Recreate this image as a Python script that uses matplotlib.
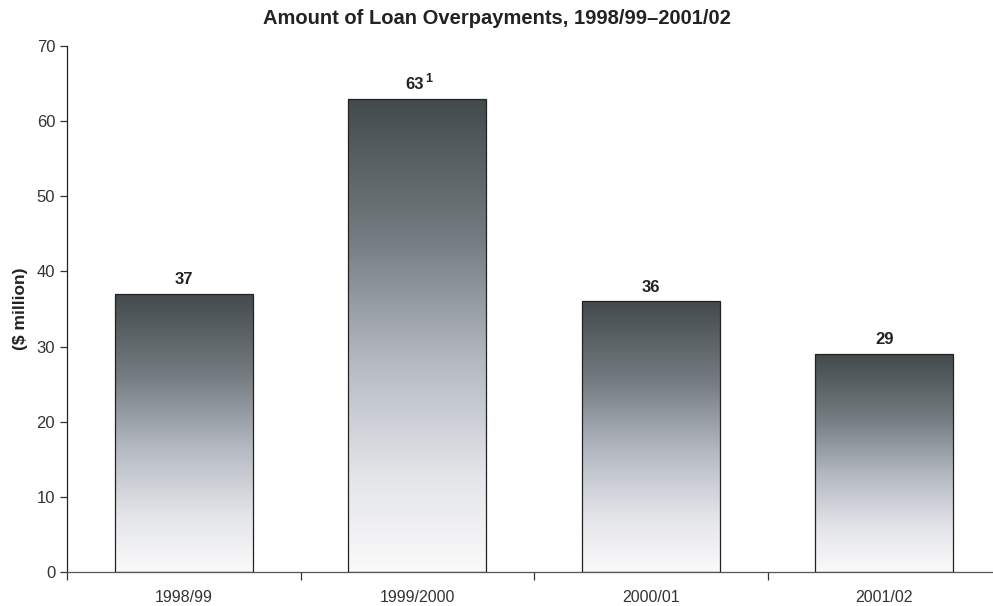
import numpy as np
import matplotlib
matplotlib.use("Agg")
import matplotlib.pyplot as plt
from matplotlib.colors import LinearSegmentedColormap

plt.rcParams['font.family'] = ['Liberation Sans', 'DejaVu Sans']

# datos
years = ["1998/99", "1999/2000", "2000/01", "2001/02"]
amounts = [37, 63, 36, 29]
notes = ["", "1", "", ""]

# degradado: oscuro arriba, casi blanco abajo
grad = LinearSegmentedColormap.from_list(
    "grad", [(0.0, "#fafafa"), (0.2, "#e4e5e9"), (0.45, "#b3b8c1"),
             (0.7, "#757d82"), (1.0, "#424a4c")])

fig = plt.figure(figsize=(9.93, 6.06), dpi=100)
ax = fig.add_axes([67 / 993, 34 / 606, 934 / 993, 526 / 606])

x = np.arange(len(years))
width = 0.59
bars = ax.bar(x, amounts, width=width, facecolor="none",
              edgecolor="#222222", linewidth=0.9, zorder=3)

ramp = np.linspace(0, 1, 256).reshape(-1, 1)
for b in bars:
    x0, h = b.get_x(), b.get_height()
    im = ax.imshow(ramp, cmap=grad, aspect="auto", origin="lower",
                   extent=[x0, x0 + width, 0, h], zorder=2)
    im.set_clip_path(b)

for xi, v, n in zip(x, amounts, notes):
    if n:
        ax.annotate(str(v), (xi, v), xytext=(-2, 5), textcoords="offset points",
                    ha="center", va="bottom", fontsize=12, fontweight="bold",
                    color="#222222")
        ax.annotate(n, (xi, v), xytext=(5.5, 10), textcoords="offset points",
                    ha="left", va="bottom", fontsize=9, fontweight="bold",
                    color="#222222")
    else:
        ax.annotate(str(v), (xi, v), xytext=(0, 5), textcoords="offset points",
                    ha="center", va="bottom", fontsize=12, fontweight="bold",
                    color="#222222")

ax.set_xlim(-0.5, len(years) - 0.5)
ax.set_ylim(0, 70)
ax.set_yticks(range(0, 71, 10))
ax.set_xticks(x)
ax.set_xticklabels(years, fontsize=11.5, color="#333333")
ax.set_xticks(np.arange(-0.5, len(years), 1.0), minor=True)
ax.tick_params(axis="x", which="major", length=0, pad=13)
ax.tick_params(axis="x", which="minor", length=6, width=0.9, color="#333333")
ax.tick_params(axis="y", length=5, width=0.9, labelsize=12,
               labelcolor="#333333", color="#333333")

ax.spines["top"].set_visible(False)
ax.spines["right"].set_visible(False)
ax.spines["left"].set_color("#222222")
ax.spines["bottom"].set_color("#555555")
ax.spines["left"].set_linewidth(0.9)
ax.spines["bottom"].set_linewidth(0.9)

ax.set_ylabel("($ million)", fontsize=12.5, fontweight="bold", labelpad=6,
              color="#222222")
fig.text(0.5, 1 - 18 / 606, "Amount of Loan Overpayments, 1998/99\u20132001/02",
         ha="center", va="center", fontsize=14.5, fontweight="bold", color="#222222")

fig.savefig("out.png", dpi=100)
